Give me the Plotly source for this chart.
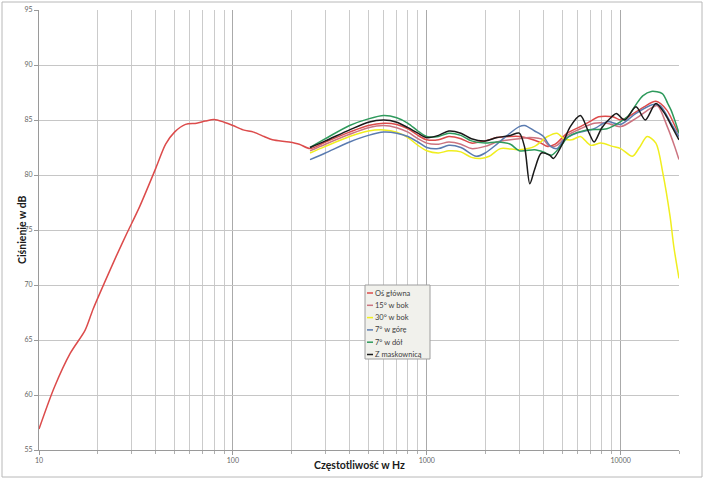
"""Charakterystyka częstotliwościowa głośnika - kilka kątów pomiaru."""

import plotly.graph_objects as go

# Oś główna - pełny zakres od 10 Hz
main_freq = [10, 12, 14.5, 17.3, 19, 22, 25, 28.4, 33, 40, 45, 50, 57, 65, 72, 80, 90, 100, 113, 128,
             145, 160, 195, 220, 250, 300, 400, 500, 600, 700, 800, 900, 1000, 1150, 1300,
             1500, 1700, 2000, 2300, 2700, 3000, 3400, 3800, 4200, 4600,
             5300, 6200, 7000, 7700, 9100, 10000, 11000, 13200, 15200, 17300, 19500, 20000]
main_db = [56.9, 60.7, 63.8, 65.9, 67.8, 70.4, 72.6, 74.7, 77.1, 80.6, 82.8, 83.9, 84.6, 84.7, 84.9, 85.05, 84.8, 84.5, 84.1, 83.9,
           83.5, 83.2, 83.0, 82.8, 82.4, 83.0, 83.9, 84.5, 84.7, 84.6, 84.2, 83.6, 83.2, 83.2, 83.5,
           83.3, 82.9, 83.1, 83.4, 83.5, 83.5, 83.3, 83.0, 82.6, 82.8,
           83.8, 84.4, 84.9, 85.3, 85.3, 85.0, 85.3, 86.2, 86.7, 85.9, 84.1, 83.8]

# 15° w bok
side15_freq = [250, 300, 400, 500, 600, 700, 800, 900, 1000, 1150, 1300, 1500, 1700, 2000, 2300, 2700,
               3000, 3400, 4000, 4300, 4700, 5300, 6200, 7300, 8500, 10000, 12000, 14400, 15500, 17400, 19000, 20000]
side15_db = [82.2, 82.8, 83.7, 84.3, 84.5, 84.3, 83.9, 83.3, 82.9, 82.8, 83.0, 82.8, 82.4, 82.6, 83.0, 83.2,
             83.3, 83.4, 83.2, 82.6, 82.7, 83.6, 84.2, 84.7, 84.7, 84.4, 85.15, 86.1, 86.3, 84.4, 82.6, 81.4]

# 30° w bok
side30_freq = [250, 300, 400, 500, 600, 700, 800, 900, 1000, 1150, 1300, 1500, 1700, 1900, 2100, 2400,
               3000, 3600, 4200, 4700, 5100, 5600, 6200, 7000, 7900, 9100, 10000, 11500, 12500, 13700,
               15200, 16500, 18000, 18800, 20000]
side30_db = [82.0, 82.6, 83.5, 84.0, 84.1, 83.9, 83.4, 82.7, 82.2, 82.0, 82.2, 82.1, 81.6, 81.5, 81.7, 82.4,
             82.3, 82.6, 83.5, 83.8, 83.3, 83.2, 83.5, 82.7, 82.9, 82.6, 82.4, 81.7, 82.5, 83.5,
             82.9, 80.2, 76.2, 73.5, 70.6]

# 7° w górę
up7_freq = [250, 300, 400, 500, 600, 700, 800, 900, 1000, 1150, 1300, 1500, 1800, 2000, 2300, 2600,
            3000, 3200, 3600, 4000, 4300, 4700, 5100, 5900, 7300, 8500, 10000, 12000, 14700, 16000, 18200, 20000]
up7_db = [81.4, 82.0, 83.0, 83.6, 83.9, 83.8, 83.5, 83.0, 82.5, 82.4, 82.7, 82.5, 81.7, 82.0, 82.8, 83.6,
          84.4, 84.5, 84.0, 83.5, 82.7, 82.4, 83.2, 83.8, 84.2, 84.85, 84.6, 85.6, 86.4, 86.3, 84.7, 83.5]

# 7° w dół
down7_freq = [250, 300, 400, 500, 600, 700, 800, 900, 1000, 1150, 1300, 1500, 1700, 2000, 2300, 2700,
              3000, 3600, 4000, 4400, 4900, 5400, 6700, 8500, 10000, 11000, 12000, 13000, 14400, 16400,
              17500, 18200, 19000, 20000]
down7_db = [82.5, 83.3, 84.5, 85.1, 85.4, 85.2, 84.7, 84.0, 83.5, 83.5, 83.8, 83.6, 83.1, 82.9, 83.0, 82.8,
            82.2, 82.3, 82.1, 81.8, 82.6, 83.5, 84.1, 84.2, 84.85, 85.4, 86.4, 87.2, 87.6, 87.4,
            86.5, 85.9, 85.0, 83.8]

# Z maskownicą
grille_freq = [250, 300, 400, 500, 600, 700, 800, 900, 1000, 1150, 1300, 1500, 1700, 2000, 2300, 2700,
               3000, 3200, 3400, 3600, 3900, 4300, 4500, 5000, 5500, 6200, 6800, 7300, 8000, 9000,
               9500, 10500, 12000, 13400, 15200, 17000, 18500, 20000]
grille_db = [82.5, 83.1, 84.1, 84.8, 85.0, 84.8, 84.3, 83.8, 83.4, 83.6, 84.0, 83.8, 83.3, 83.1, 83.4, 83.6,
             83.8, 82.5, 79.2, 80.5, 82.0, 81.8, 81.5, 82.8, 84.4, 85.4, 84.0, 83.0, 84.3, 85.3,
             85.6, 85.0, 86.2, 85.0, 86.5, 85.5, 84.3, 83.2]

series = [
    ("Oś główna", main_freq, main_db, "#DC4B4B"),
    ("15° w bok", side15_freq, side15_db, "#CC7480"),
    ("30° w bok", side30_freq, side30_db, "#F0EE1E"),
    ("7° w górę", up7_freq, up7_db, "#5A7BB0"),
    ("7° w dół", down7_freq, down7_db, "#2E9A5C"),
    ("Z maskownicą", grille_freq, grille_db, "#1A1A1A"),
]

major_ticks = [10, 100, 1000, 10000]
minor_ticks = [m * d for d in (10, 100, 1000) for m in range(2, 10)] + [20000]

# plot area in pixels (705x481 canvas)
L, R, T, B = 39, 679, 10, 450


def px_x(px):
    return (px - L) / (R - L)


def px_y(py):
    return (B - py) / (B - T)


fig = go.Figure()

for name, f, db, color in series:
    fig.add_trace(
        go.Scatter(
            x=f,
            y=db,
            mode="lines",
            name=name,
            line=dict(color=color, width=1.5, shape="spline", smoothing=0.8),
        )
    )

tick_font = dict(family="Lato, Open Sans, sans-serif", size=7, color="#666666")
title_font = dict(family="Lato, Open Sans, sans-serif", size=10.5, color="#1a1a1a")

fig.update_layout(
    width=705,
    height=481,
    paper_bgcolor="white",
    plot_bgcolor="white",
    showlegend=False,
    margin=dict(l=L, r=705 - R, t=T, b=481 - B, autoexpand=False),
    xaxis=dict(
        type="log",
        range=[1, 4.30103],
        automargin=False,
        tickvals=major_ticks,
        ticktext=[str(v) for v in major_ticks],
        tickfont=tick_font,
        ticks="outside",
        ticklen=4,
        tickcolor="#9A9A9A",
        showgrid=True,
        gridcolor="#AAAAAA",
        gridwidth=1,
        minor=dict(tickvals=minor_ticks, showgrid=True, gridcolor="#CBCBCB", gridwidth=1,
                   ticks="outside", ticklen=3, tickcolor="#B0B0B0"),
        showline=True,
        linecolor="#9A9A9A",
        zeroline=False,
    ),
    yaxis=dict(
        range=[55, 95],
        dtick=5,
        automargin=False,
        tickfont=tick_font,
        ticks="outside",
        ticklen=4,
        tickcolor="#9A9A9A",
        showgrid=True,
        gridcolor="#C6C6C6",
        gridwidth=1,
        showline=True,
        linecolor="#9A9A9A",
        zeroline=False,
    ),
)

# axis titles placed where the original has them
fig.add_annotation(
    xref="paper", yref="paper", x=px_x(359), y=px_y(465),
    text="<b>Częstotliwość w Hz</b>", showarrow=False, font=title_font,
    xanchor="center", yanchor="middle",
)
fig.add_annotation(
    xref="paper", yref="paper", x=px_x(22), y=px_y(230),
    text="<b>Ciśnienie w dB</b>", showarrow=False, font=title_font, textangle=-90,
    xanchor="center", yanchor="middle",
)

# outer chart frame
fig.add_shape(
    type="rect", xref="paper", yref="paper",
    x0=px_x(2), x1=px_x(702), y0=px_y(477), y1=px_y(2),
    line=dict(color="#B8B8B8", width=1), fillcolor="rgba(0,0,0,0)", layer="below",
)

# legend box drawn by hand (small line samples like the original)
fig.add_shape(
    type="rect", xref="paper", yref="paper",
    x0=px_x(365), x1=px_x(430), y0=px_y(359), y1=px_y(285),
    line=dict(color="#9E9E9E", width=1), fillcolor="#F1F1EC",
)
for i, (name, f, db, color) in enumerate(series):
    yc = 293 + i * 12.3
    fig.add_shape(
        type="line", xref="paper", yref="paper",
        x0=px_x(367), x1=px_x(373), y0=px_y(yc), y1=px_y(yc),
        line=dict(color=color, width=1.5),
    )
    fig.add_annotation(
        xref="paper", yref="paper", x=px_x(373), y=px_y(yc),
        text=name, showarrow=False, xanchor="left", yanchor="middle",
        font=dict(family="Lato, Open Sans, sans-serif", size=7.5, color="#404040"),
    )

# the page body has a default 8px margin; drop it so the chart sits at 0,0
fig.write_html(
    "out.html",
    config={"displayModeBar": False},
    post_script="document.body.style.margin='0';",
)
